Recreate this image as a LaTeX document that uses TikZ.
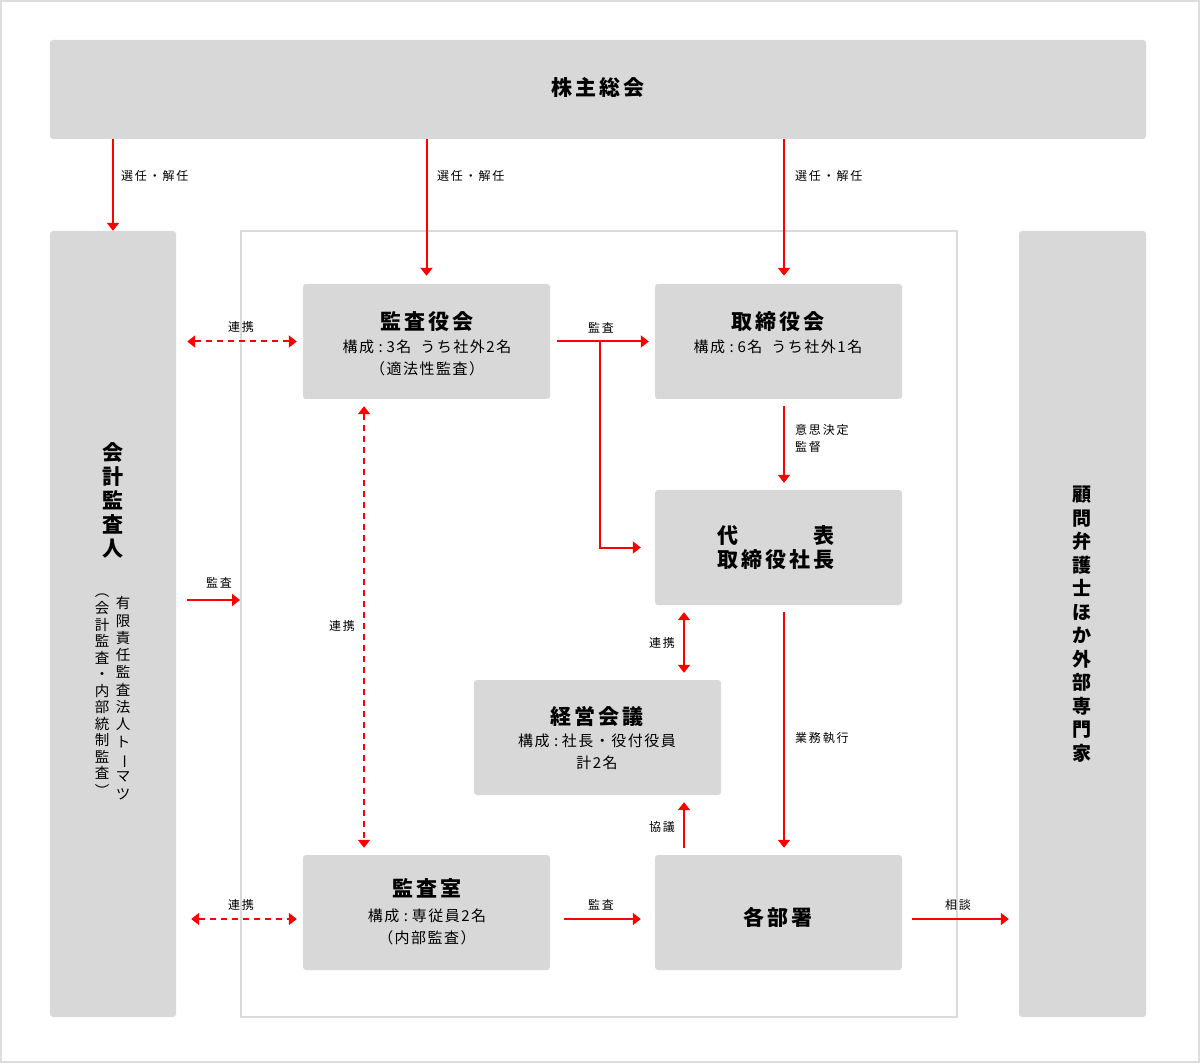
\documentclass[tikz,border=0pt]{standalone}
\usepackage{fontspec}
\newfontfamily\jp[LetterSpace=15]{Noto Sans CJK JP}
\newfontfamily\jps[LetterSpace=10]{Noto Sans CJK JP}
\newfontfamily\jpv{Noto Sans CJK JP}
\usetikzlibrary{arrows.meta}
\definecolor{boxgray}{HTML}{D8D8D8}
\definecolor{framegray}{HTML}{DADADA}
\definecolor{outergray}{HTML}{DDDDDD}
\definecolor{arrred}{HTML}{FF0000}
\newcommand\rotch[1]{\rotatebox[origin=c]{-90}{#1}}
\newcommand\colsp{\hspace{0.3em}:\hspace{0.25em}}
\begin{document}
\begin{tikzpicture}[x=1pt,y=-1pt,
  box/.style={fill=boxgray, rounded corners=3pt, inner sep=0pt},
  arr/.style={draw=arrred, line width=2pt, -{Triangle[width=12pt,length=8pt]}},
  darr/.style={draw=arrred, line width=2pt, {Triangle[width=12pt,length=8pt]}-{Triangle[width=12pt,length=8pt]}},
  dasharr/.style={dash pattern=on 6pt off 5pt},
  lbl/.style={font=\jp\fontsize{12}{17}\selectfont, inner sep=0pt},
  ttl/.style={font=\jp\bfseries\fontsize{21}{24}\selectfont, inner sep=0pt},
  sub/.style={font=\jps\fontsize{15}{22}\selectfont, inner sep=0pt, align=center},
]
\useasboundingbox (0,0) rectangle (1202,1064);
\draw[outergray, line width=2pt] (1,1) rectangle (1199,1062);

% boxes
\node[box, minimum width=1096pt, minimum height=99pt] (kabu) at (598,89.5) {};
\node[box, minimum width=126pt, minimum height=786pt] (kaikei) at (113,624) {};
\node[box, minimum width=127pt, minimum height=786pt] (komon) at (1082.5,624) {};
\node[draw=framegray, line width=2pt, inner sep=0pt, minimum width=716pt, minimum height=786pt] (frame) at (599,624) {};
\node[box, minimum width=247pt, minimum height=115pt] (kansayaku) at (426.5,341.5) {};
\node[box, minimum width=247pt, minimum height=115pt] (torishimari) at (778.5,341.5) {};
\node[box, minimum width=247pt, minimum height=115pt] (daihyo) at (778.5,547.5) {};
\node[box, minimum width=247pt, minimum height=115pt] (keiei) at (597.5,737.5) {};
\node[box, minimum width=247pt, minimum height=115pt] (kansashitsu) at (426.5,912.5) {};
\node[box, minimum width=247pt, minimum height=115pt] (kakubusho) at (778.5,912.5) {};

% box texts
\node[ttl] (kabuT) at (598,87) {株主総会};
\node[ttl] (kansayakuT) at (427,322) {監査役会};
\node[sub] (kansayakuS) at (427,358) {構成\colsp 3名\hspace{0.6em}うち社外2名\\（適法性監査）};
\node[ttl] (torishimariT) at (778,322) {取締役会};
\node[sub] (torishimariS) at (778,347) {構成\colsp 6名\hspace{0.6em}うち社外1名};
\node[ttl, align=center] (daihyoT) at (776,548)
  {\sbox0{取締役社長}\makebox[\wd0][s]{代\hfill 表}\\取締役社長};
\node[ttl] (keieiT) at (597,716) {経営会議};
\node[sub] (keieiS) at (597,752) {構成\colsp 社長・役付役員\\計2名};
\node[ttl] (kansashitsuT) at (427,888) {監査室};
\node[sub] (kansashitsuS) at (427,927) {構成\colsp 専従員2名\\（内部監査）};
\node[ttl] (kakubushoT) at (778,917) {各部署};

% vertical texts
\node[font=\jpv\bfseries\fontsize{21}{24}\selectfont, align=center, inner sep=0pt] (kaikeiT) at (113,500.5)
  {会\\計\\監\\査\\人};
\node[font=\jpv\fontsize{14.5}{17.3}\selectfont, align=center, inner sep=0pt] (kaikeiS1) at (123,698)
  {有\\限\\責\\任\\監\\査\\法\\人\\ト\\\rotch{ー}\\マ\\ツ};
\node[font=\jpv\fontsize{14.5}{16.5}\selectfont, align=center, inner sep=0pt] (kaikeiS2) at (102,695)
  {︵\\[1pt]会\\計\\監\\査\\・\\内\\部\\統\\制\\監\\査\\[1pt]︶};
\node[font=\jpv\bfseries\fontsize{19}{23.5}\selectfont, align=center, inner sep=0pt] (komonT) at (1082,624)
  {顧\\問\\弁\\護\\士\\ほ\\か\\外\\部\\専\\門\\家};

% arrows from shareholders
\draw[arr] (kabu.south -| kaikei.north) -- (kaikei.north);
\draw[arr] (kabu.south -| kansayaku.north) -- ([yshift=8pt]kansayaku.north);
\draw[arr] ([xshift=5.5pt]torishimari.north |- kabu.south) -- ([xshift=5.5pt,yshift=8pt]torishimari.north);
\node[lbl, anchor=west] (l1) at (121,176) {選任・解任};
\node[lbl, anchor=west] (l2) at (437,176) {選任・解任};
\node[lbl, anchor=west] (l3) at (795,176) {選任・解任};

% renkei top
\draw[darr, dasharr] ([xshift=11pt]kaikei.east |- kansayaku.west) -- ([xshift=-6pt]kansayaku.west);
\node[lbl] (l4) at (241,327) {連携};

% kansa from kansayaku
\coordinate (br) at ([xshift=50pt]kansayaku.east);
\draw[arr] ([xshift=7pt]kansayaku.east) -- ([xshift=-6pt]torishimari.west);
\draw[arr] (br) |- ([xshift=-14pt]daihyo.west);
\node[lbl] (l5) at (601,328) {監査};

% ishikettei
\draw[arr] ([xshift=5.5pt,yshift=-7pt]torishimari.south) -- ([xshift=5.5pt,yshift=7pt]daihyo.north);
\node[lbl, anchor=north west, align=left] (l6) at (795,424) {意思決定\\監督};

% vertical dashed renkei
\draw[darr, dasharr] ([xshift=-62.5pt,yshift=-7pt]kansayaku.south) -- ([xshift=-62.5pt,yshift=7pt]kansashitsu.north);
\node[lbl, anchor=east] (l7) at (355,626) {連携};

% kansa from kaikei
\draw[arr] ([xshift=11pt,yshift=24pt]kaikei.east) -- ([yshift=24pt]frame.west);
\node[lbl] (l8) at (219,583) {監査};

% renkei daihyo-keiei
\draw[darr] ([xshift=-94.5pt,yshift=-7pt]daihyo.south) -- ([xshift=-94.5pt,yshift=7pt]daihyo.south |- keiei.north);
\node[lbl] (l9) at (662,643) {連携};

% gyomu shikko
\draw[arr] ([xshift=5.5pt,yshift=-7pt]daihyo.south) -- ([xshift=5.5pt,yshift=7pt]kakubusho.north);
\node[lbl, anchor=west] (l10) at (795,738) {業務執行};

% kyogi
\draw[arr] ([xshift=-94.5pt,yshift=7pt]kakubusho.north) -- ([xshift=-94.5pt,yshift=-7pt]kakubusho.north |- keiei.south);
\node[lbl] (l11) at (662,827) {協議};

% bottom row
\draw[darr, dasharr] ([xshift=15pt,yshift=-6.5pt]kaikei.east |- kansashitsu.west) -- ([xshift=-6pt,yshift=-6.5pt]kansashitsu.west);
\node[lbl] (l12) at (241,905) {連携};
\draw[arr] ([xshift=14pt,yshift=-6.5pt]kansashitsu.east) -- ([xshift=-14pt,yshift=-6.5pt]kakubusho.west);
\node[lbl] (l13) at (601,905) {監査};
\draw[arr] ([xshift=10pt,yshift=-6.5pt]kakubusho.east) -- ([xshift=-10pt,yshift=-6.5pt]kakubusho.east -| komon.west);
\node[lbl] (l14) at (958,905) {相談};
\end{tikzpicture}
\end{document}
